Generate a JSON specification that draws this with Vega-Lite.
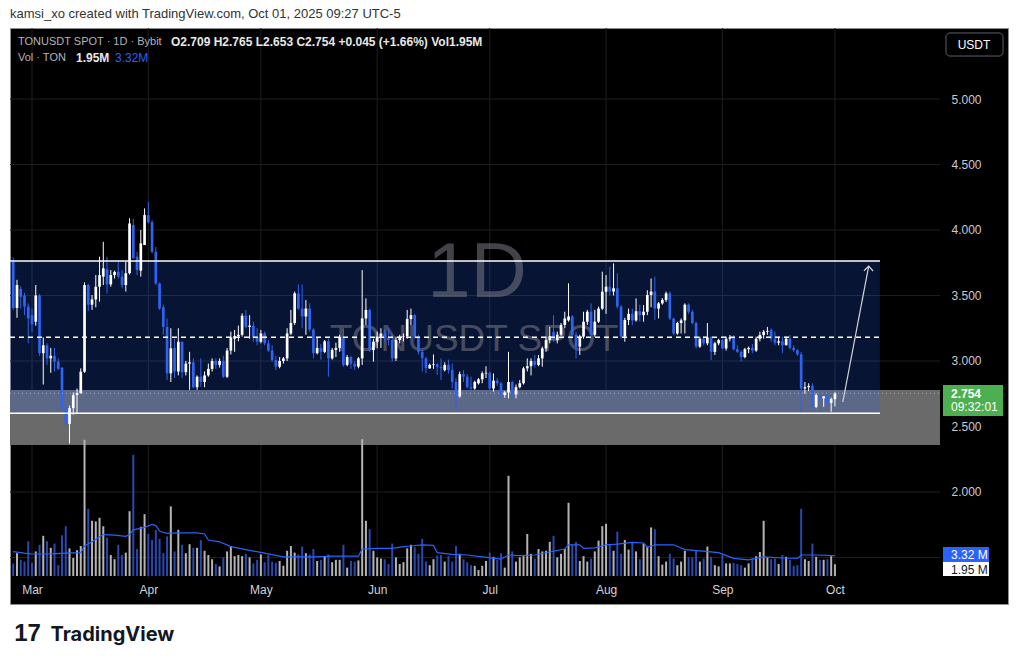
{
  "$schema": "https://vega.github.io/schema/vega-lite/v6.json",
  "width": 998,
  "height": 576,
  "autosize": "none",
  "padding": {"left": 10, "top": 28, "right": 10, "bottom": 60},
  "background": "#ffffff",
  "title": {"text": "kamsi_xo created with TradingView.com, Oct 01, 2025 09:27 UTC-5", "anchor": "start", "frame": "group", "fontSize": 13, "fontWeight": "normal", "color": "#333333", "font": "Liberation Sans", "offset": -6, "baseline": "bottom"},
  "config": {"view": {"fill": "#000000", "stroke": "#8f8f8f", "strokeWidth": 1}, "font": "Liberation Sans"},
  "datasets": {
    "candles": [
      {"d":"2025-02-24","o":3.756,"h":3.79,"l":3.39,"c":3.405,"v":2.1},
      {"d":"2025-02-25","o":3.405,"h":3.62,"l":3.33,"c":3.58,"v":3.8},
      {"d":"2025-02-26","o":3.55,"h":3.57,"l":3.40,"c":3.49,"v":2.7},
      {"d":"2025-02-27","o":3.50,"h":3.52,"l":3.35,"c":3.415,"v":2.4},
      {"d":"2025-02-28","o":3.415,"h":3.44,"l":3.135,"c":3.325,"v":5.8},
      {"d":"2025-03-01","o":3.35,"h":3.40,"l":3.22,"c":3.28,"v":2.2},
      {"d":"2025-03-02","o":3.30,"h":3.58,"l":3.27,"c":3.50,"v":4.1},
      {"d":"2025-03-03","o":3.50,"h":3.51,"l":3.04,"c":3.06,"v":5.2},
      {"d":"2025-03-04","o":3.06,"h":3.18,"l":2.82,"c":3.12,"v":6.7},
      {"d":"2025-03-05","o":3.12,"h":3.135,"l":2.97,"c":3.02,"v":5.8},
      {"d":"2025-03-06","o":3.02,"h":3.10,"l":2.91,"c":3.04,"v":4.7},
      {"d":"2025-03-07","o":3.04,"h":3.10,"l":2.92,"c":2.995,"v":5.4},
      {"d":"2025-03-08","o":2.995,"h":3.02,"l":2.93,"c":2.94,"v":1.8},
      {"d":"2025-03-09","o":2.95,"h":2.95,"l":2.627,"c":2.64,"v":6.8},
      {"d":"2025-03-10","o":2.64,"h":2.66,"l":2.50,"c":2.52,"v":8.3},
      {"d":"2025-03-11","o":2.52,"h":2.66,"l":2.37,"c":2.64,"v":4.6},
      {"d":"2025-03-12","o":2.64,"h":2.76,"l":2.59,"c":2.74,"v":3.0},
      {"d":"2025-03-13","o":2.74,"h":2.79,"l":2.60,"c":2.755,"v":4.3},
      {"d":"2025-03-14","o":2.755,"h":2.944,"l":2.75,"c":2.918,"v":5.0},
      {"d":"2025-03-15","o":2.918,"h":3.60,"l":2.91,"c":3.58,"v":22.7},
      {"d":"2025-03-16","o":3.58,"h":3.59,"l":3.38,"c":3.43,"v":11.2},
      {"d":"2025-03-17","o":3.43,"h":3.504,"l":3.39,"c":3.47,"v":9.2},
      {"d":"2025-03-18","o":3.47,"h":3.656,"l":3.41,"c":3.567,"v":9.1},
      {"d":"2025-03-19","o":3.567,"h":3.796,"l":3.453,"c":3.656,"v":9.7},
      {"d":"2025-03-20","o":3.644,"h":3.91,"l":3.58,"c":3.707,"v":8.3},
      {"d":"2025-03-21","o":3.70,"h":3.796,"l":3.516,"c":3.585,"v":6.4},
      {"d":"2025-03-22","o":3.585,"h":3.694,"l":3.567,"c":3.656,"v":3.5},
      {"d":"2025-03-23","o":3.656,"h":3.69,"l":3.63,"c":3.68,"v":2.8},
      {"d":"2025-03-24","o":3.682,"h":3.758,"l":3.63,"c":3.644,"v":5.2},
      {"d":"2025-03-25","o":3.644,"h":3.694,"l":3.555,"c":3.58,"v":3.5},
      {"d":"2025-03-26","o":3.58,"h":3.758,"l":3.53,"c":3.67,"v":3.9},
      {"d":"2025-03-27","o":3.67,"h":4.09,"l":3.66,"c":4.05,"v":10.8},
      {"d":"2025-03-28","o":4.038,"h":4.085,"l":3.783,"c":3.783,"v":20.2},
      {"d":"2025-03-29","o":3.796,"h":3.834,"l":3.656,"c":3.694,"v":4.5},
      {"d":"2025-03-30","o":3.69,"h":4.0,"l":3.644,"c":3.898,"v":8.2},
      {"d":"2025-03-31","o":3.885,"h":4.165,"l":3.885,"c":4.114,"v":10.3},
      {"d":"2025-04-01","o":4.114,"h":4.216,"l":4.05,"c":4.06,"v":7.0},
      {"d":"2025-04-02","o":4.06,"h":4.075,"l":3.82,"c":3.834,"v":6.0},
      {"d":"2025-04-03","o":3.834,"h":3.87,"l":3.58,"c":3.593,"v":7.7},
      {"d":"2025-04-04","o":3.593,"h":3.60,"l":3.39,"c":3.40,"v":6.2},
      {"d":"2025-04-05","o":3.41,"h":3.43,"l":3.20,"c":3.26,"v":3.8},
      {"d":"2025-04-06","o":3.26,"h":3.325,"l":2.855,"c":2.906,"v":6.6},
      {"d":"2025-04-07","o":2.906,"h":3.25,"l":2.84,"c":3.096,"v":11.6},
      {"d":"2025-04-08","o":3.10,"h":3.17,"l":2.87,"c":2.92,"v":4.1},
      {"d":"2025-04-09","o":2.92,"h":3.25,"l":2.89,"c":3.147,"v":7.7},
      {"d":"2025-04-10","o":3.147,"h":3.15,"l":2.87,"c":2.915,"v":5.2},
      {"d":"2025-04-11","o":2.915,"h":3.0,"l":2.89,"c":2.98,"v":3.8},
      {"d":"2025-04-12","o":2.98,"h":3.07,"l":2.78,"c":2.99,"v":5.3},
      {"d":"2025-04-13","o":2.99,"h":3.02,"l":2.79,"c":2.80,"v":4.7},
      {"d":"2025-04-14","o":2.80,"h":2.89,"l":2.78,"c":2.88,"v":4.7},
      {"d":"2025-04-15","o":2.88,"h":3.02,"l":2.80,"c":2.84,"v":6.0},
      {"d":"2025-04-16","o":2.84,"h":2.92,"l":2.80,"c":2.89,"v":4.2},
      {"d":"2025-04-17","o":2.89,"h":2.98,"l":2.88,"c":2.94,"v":3.5},
      {"d":"2025-04-18","o":2.94,"h":3.02,"l":2.92,"c":3.0,"v":2.8},
      {"d":"2025-04-19","o":3.0,"h":3.02,"l":2.94,"c":2.97,"v":2.0},
      {"d":"2025-04-20","o":2.97,"h":3.02,"l":2.95,"c":3.0,"v":1.6},
      {"d":"2025-04-21","o":3.0,"h":3.04,"l":2.87,"c":2.88,"v":3.1},
      {"d":"2025-04-22","o":2.88,"h":3.10,"l":2.87,"c":3.08,"v":4.1},
      {"d":"2025-04-23","o":3.08,"h":3.224,"l":3.05,"c":3.18,"v":5.0},
      {"d":"2025-04-24","o":3.17,"h":3.237,"l":3.07,"c":3.19,"v":3.3},
      {"d":"2025-04-25","o":3.19,"h":3.27,"l":3.15,"c":3.20,"v":3.5},
      {"d":"2025-04-26","o":3.20,"h":3.364,"l":3.186,"c":3.346,"v":3.3},
      {"d":"2025-04-27","o":3.346,"h":3.39,"l":3.25,"c":3.26,"v":3.7},
      {"d":"2025-04-28","o":3.26,"h":3.35,"l":3.17,"c":3.27,"v":3.1},
      {"d":"2025-04-29","o":3.27,"h":3.30,"l":3.147,"c":3.18,"v":2.1},
      {"d":"2025-04-30","o":3.18,"h":3.25,"l":3.12,"c":3.147,"v":2.7},
      {"d":"2025-05-01","o":3.147,"h":3.237,"l":3.135,"c":3.21,"v":3.6},
      {"d":"2025-05-02","o":3.21,"h":3.224,"l":3.12,"c":3.135,"v":2.3},
      {"d":"2025-05-03","o":3.135,"h":3.16,"l":3.07,"c":3.08,"v":3.5},
      {"d":"2025-05-04","o":3.08,"h":3.12,"l":2.995,"c":3.007,"v":2.4},
      {"d":"2025-05-05","o":3.007,"h":3.04,"l":2.93,"c":2.957,"v":2.2},
      {"d":"2025-05-06","o":2.957,"h":3.03,"l":2.944,"c":3.0,"v":2.5},
      {"d":"2025-05-07","o":3.0,"h":3.03,"l":2.98,"c":3.02,"v":1.7},
      {"d":"2025-05-08","o":3.02,"h":3.25,"l":3.0,"c":3.21,"v":4.2},
      {"d":"2025-05-09","o":3.21,"h":3.39,"l":3.198,"c":3.29,"v":5.0},
      {"d":"2025-05-10","o":3.29,"h":3.53,"l":3.275,"c":3.516,"v":3.9},
      {"d":"2025-05-11","o":3.516,"h":3.585,"l":3.39,"c":3.40,"v":3.6},
      {"d":"2025-05-12","o":3.40,"h":3.585,"l":3.25,"c":3.34,"v":4.9},
      {"d":"2025-05-13","o":3.34,"h":3.465,"l":3.20,"c":3.40,"v":3.8},
      {"d":"2025-05-14","o":3.40,"h":3.44,"l":3.224,"c":3.24,"v":3.6},
      {"d":"2025-05-15","o":3.24,"h":3.25,"l":3.02,"c":3.06,"v":4.5},
      {"d":"2025-05-16","o":3.06,"h":3.18,"l":3.05,"c":3.10,"v":2.5},
      {"d":"2025-05-17","o":3.10,"h":3.13,"l":3.01,"c":3.07,"v":2.7},
      {"d":"2025-05-18","o":3.07,"h":3.16,"l":3.06,"c":3.15,"v":3.2},
      {"d":"2025-05-19","o":3.15,"h":3.17,"l":2.88,"c":3.02,"v":3.6},
      {"d":"2025-05-20","o":3.02,"h":3.10,"l":3.01,"c":3.085,"v":2.3},
      {"d":"2025-05-21","o":3.085,"h":3.14,"l":3.03,"c":3.10,"v":2.7},
      {"d":"2025-05-22","o":3.10,"h":3.20,"l":3.07,"c":3.185,"v":2.7},
      {"d":"2025-05-23","o":3.185,"h":3.25,"l":2.956,"c":2.97,"v":5.2},
      {"d":"2025-05-24","o":2.97,"h":3.046,"l":2.96,"c":3.03,"v":1.4},
      {"d":"2025-05-25","o":3.03,"h":3.04,"l":2.94,"c":2.98,"v":2.5},
      {"d":"2025-05-26","o":2.98,"h":3.0,"l":2.93,"c":2.957,"v":2.4},
      {"d":"2025-05-27","o":2.957,"h":3.03,"l":2.944,"c":3.02,"v":2.6},
      {"d":"2025-05-28","o":3.02,"h":3.694,"l":2.97,"c":3.325,"v":22.8},
      {"d":"2025-05-29","o":3.325,"h":3.478,"l":3.274,"c":3.39,"v":9.2},
      {"d":"2025-05-30","o":3.39,"h":3.40,"l":3.07,"c":3.083,"v":7.8},
      {"d":"2025-05-31","o":3.083,"h":3.17,"l":2.995,"c":3.147,"v":4.2},
      {"d":"2025-06-01","o":3.147,"h":3.224,"l":3.096,"c":3.186,"v":3.1},
      {"d":"2025-06-02","o":3.186,"h":3.25,"l":3.10,"c":3.21,"v":2.9},
      {"d":"2025-06-03","o":3.21,"h":3.24,"l":3.15,"c":3.174,"v":2.8},
      {"d":"2025-06-04","o":3.174,"h":3.25,"l":3.12,"c":3.16,"v":2.0},
      {"d":"2025-06-05","o":3.16,"h":3.20,"l":2.995,"c":3.02,"v":5.4},
      {"d":"2025-06-06","o":3.02,"h":3.186,"l":3.0,"c":3.16,"v":3.1},
      {"d":"2025-06-07","o":3.16,"h":3.20,"l":3.135,"c":3.186,"v":2.0},
      {"d":"2025-06-08","o":3.186,"h":3.21,"l":3.15,"c":3.19,"v":2.3},
      {"d":"2025-06-09","o":3.19,"h":3.39,"l":3.17,"c":3.32,"v":4.6},
      {"d":"2025-06-10","o":3.32,"h":3.40,"l":3.275,"c":3.35,"v":5.2},
      {"d":"2025-06-11","o":3.35,"h":3.36,"l":3.17,"c":3.186,"v":4.8},
      {"d":"2025-06-12","o":3.186,"h":3.20,"l":3.05,"c":3.07,"v":3.7},
      {"d":"2025-06-13","o":3.07,"h":3.083,"l":2.92,"c":3.02,"v":6.2},
      {"d":"2025-06-14","o":3.02,"h":3.03,"l":2.906,"c":2.944,"v":2.4},
      {"d":"2025-06-15","o":2.944,"h":2.98,"l":2.94,"c":2.97,"v":1.8},
      {"d":"2025-06-16","o":2.97,"h":3.05,"l":2.94,"c":2.975,"v":2.8},
      {"d":"2025-06-17","o":2.975,"h":2.985,"l":2.895,"c":2.955,"v":3.4},
      {"d":"2025-06-18","o":2.955,"h":3.02,"l":2.855,"c":2.944,"v":3.5},
      {"d":"2025-06-19","o":2.93,"h":2.99,"l":2.92,"c":2.97,"v":2.4},
      {"d":"2025-06-20","o":2.97,"h":3.01,"l":2.905,"c":2.93,"v":3.3},
      {"d":"2025-06-21","o":2.93,"h":2.98,"l":2.79,"c":2.84,"v":2.4},
      {"d":"2025-06-22","o":2.84,"h":2.87,"l":2.61,"c":2.73,"v":5.0},
      {"d":"2025-06-23","o":2.73,"h":2.92,"l":2.72,"c":2.90,"v":3.7},
      {"d":"2025-06-24","o":2.90,"h":2.93,"l":2.84,"c":2.88,"v":2.8},
      {"d":"2025-06-25","o":2.88,"h":2.90,"l":2.79,"c":2.80,"v":2.3},
      {"d":"2025-06-26","o":2.80,"h":2.88,"l":2.78,"c":2.79,"v":1.8},
      {"d":"2025-06-27","o":2.79,"h":2.85,"l":2.78,"c":2.84,"v":1.7},
      {"d":"2025-06-28","o":2.83,"h":2.87,"l":2.82,"c":2.86,"v":1.0},
      {"d":"2025-06-29","o":2.86,"h":2.92,"l":2.83,"c":2.905,"v":1.7},
      {"d":"2025-06-30","o":2.905,"h":2.96,"l":2.87,"c":2.91,"v":2.5},
      {"d":"2025-07-01","o":2.91,"h":2.92,"l":2.78,"c":2.79,"v":3.9},
      {"d":"2025-07-02","o":2.79,"h":2.905,"l":2.766,"c":2.85,"v":3.2},
      {"d":"2025-07-03","o":2.85,"h":2.87,"l":2.81,"c":2.83,"v":2.7},
      {"d":"2025-07-04","o":2.83,"h":2.84,"l":2.715,"c":2.74,"v":3.8},
      {"d":"2025-07-05","o":2.74,"h":2.77,"l":2.72,"c":2.76,"v":1.4},
      {"d":"2025-07-06","o":2.76,"h":3.07,"l":2.715,"c":2.84,"v":16.7},
      {"d":"2025-07-07","o":2.84,"h":2.85,"l":2.72,"c":2.745,"v":4.1},
      {"d":"2025-07-08","o":2.745,"h":2.82,"l":2.715,"c":2.80,"v":2.4},
      {"d":"2025-07-09","o":2.80,"h":2.855,"l":2.79,"c":2.83,"v":3.1},
      {"d":"2025-07-10","o":2.83,"h":2.956,"l":2.82,"c":2.944,"v":3.3},
      {"d":"2025-07-11","o":2.944,"h":3.02,"l":2.92,"c":2.96,"v":7.0},
      {"d":"2025-07-12","o":2.96,"h":3.02,"l":2.89,"c":3.0,"v":3.7},
      {"d":"2025-07-13","o":3.0,"h":3.046,"l":2.95,"c":2.97,"v":2.9},
      {"d":"2025-07-14","o":2.97,"h":3.046,"l":2.96,"c":3.02,"v":4.5},
      {"d":"2025-07-15","o":3.02,"h":3.11,"l":2.957,"c":3.096,"v":4.1},
      {"d":"2025-07-16","o":3.096,"h":3.186,"l":3.07,"c":3.16,"v":4.2},
      {"d":"2025-07-17","o":3.16,"h":3.26,"l":3.135,"c":3.19,"v":5.7},
      {"d":"2025-07-18","o":3.22,"h":3.35,"l":3.147,"c":3.16,"v":6.7},
      {"d":"2025-07-19","o":3.16,"h":3.224,"l":3.135,"c":3.20,"v":3.1},
      {"d":"2025-07-20","o":3.20,"h":3.29,"l":3.19,"c":3.275,"v":3.7},
      {"d":"2025-07-21","o":3.275,"h":3.376,"l":3.25,"c":3.325,"v":4.5},
      {"d":"2025-07-22","o":3.31,"h":3.593,"l":3.30,"c":3.34,"v":12.2},
      {"d":"2025-07-23","o":3.34,"h":3.35,"l":3.19,"c":3.20,"v":5.2},
      {"d":"2025-07-24","o":3.20,"h":3.22,"l":3.02,"c":3.11,"v":5.7},
      {"d":"2025-07-25","o":3.11,"h":3.20,"l":3.046,"c":3.186,"v":2.5},
      {"d":"2025-07-26","o":3.186,"h":3.376,"l":3.17,"c":3.30,"v":3.3},
      {"d":"2025-07-27","o":3.30,"h":3.39,"l":3.275,"c":3.376,"v":2.4},
      {"d":"2025-07-28","o":3.376,"h":3.44,"l":3.198,"c":3.20,"v":2.9},
      {"d":"2025-07-29","o":3.20,"h":3.39,"l":3.186,"c":3.30,"v":4.1},
      {"d":"2025-07-30","o":3.30,"h":3.415,"l":3.29,"c":3.40,"v":5.9},
      {"d":"2025-07-31","o":3.40,"h":3.682,"l":3.39,"c":3.529,"v":8.3},
      {"d":"2025-08-01","o":3.529,"h":3.656,"l":3.36,"c":3.567,"v":8.7},
      {"d":"2025-08-02","o":3.567,"h":3.72,"l":3.50,"c":3.53,"v":5.2},
      {"d":"2025-08-03","o":3.53,"h":3.745,"l":3.50,"c":3.555,"v":4.2},
      {"d":"2025-08-04","o":3.555,"h":3.67,"l":3.40,"c":3.415,"v":7.4},
      {"d":"2025-08-05","o":3.415,"h":3.427,"l":3.17,"c":3.186,"v":3.7},
      {"d":"2025-08-06","o":3.186,"h":3.33,"l":3.147,"c":3.313,"v":6.0},
      {"d":"2025-08-07","o":3.313,"h":3.40,"l":3.275,"c":3.36,"v":4.4},
      {"d":"2025-08-08","o":3.36,"h":3.40,"l":3.275,"c":3.31,"v":5.6},
      {"d":"2025-08-09","o":3.31,"h":3.478,"l":3.30,"c":3.38,"v":4.1},
      {"d":"2025-08-10","o":3.38,"h":3.43,"l":3.30,"c":3.35,"v":2.8},
      {"d":"2025-08-11","o":3.35,"h":3.427,"l":3.30,"c":3.376,"v":5.4},
      {"d":"2025-08-12","o":3.376,"h":3.54,"l":3.35,"c":3.504,"v":4.9},
      {"d":"2025-08-13","o":3.504,"h":3.63,"l":3.41,"c":3.53,"v":8.1},
      {"d":"2025-08-14","o":3.53,"h":3.644,"l":3.313,"c":3.40,"v":7.8},
      {"d":"2025-08-15","o":3.40,"h":3.45,"l":3.325,"c":3.44,"v":3.3},
      {"d":"2025-08-16","o":3.44,"h":3.48,"l":3.43,"c":3.466,"v":1.9},
      {"d":"2025-08-17","o":3.466,"h":3.53,"l":3.45,"c":3.516,"v":2.4},
      {"d":"2025-08-18","o":3.516,"h":3.53,"l":3.313,"c":3.325,"v":3.7},
      {"d":"2025-08-19","o":3.325,"h":3.33,"l":3.198,"c":3.21,"v":2.9},
      {"d":"2025-08-20","o":3.21,"h":3.30,"l":3.20,"c":3.29,"v":1.8},
      {"d":"2025-08-21","o":3.29,"h":3.325,"l":3.21,"c":3.31,"v":2.4},
      {"d":"2025-08-22","o":3.31,"h":3.44,"l":3.21,"c":3.43,"v":4.2},
      {"d":"2025-08-23","o":3.43,"h":3.44,"l":3.36,"c":3.376,"v":3.1},
      {"d":"2025-08-24","o":3.376,"h":3.39,"l":3.28,"c":3.29,"v":3.1},
      {"d":"2025-08-25","o":3.29,"h":3.30,"l":3.096,"c":3.11,"v":4.3},
      {"d":"2025-08-26","o":3.11,"h":3.186,"l":3.10,"c":3.17,"v":2.4},
      {"d":"2025-08-27","o":3.17,"h":3.19,"l":3.12,"c":3.135,"v":2.9},
      {"d":"2025-08-28","o":3.135,"h":3.29,"l":3.12,"c":3.18,"v":4.9},
      {"d":"2025-08-29","o":3.18,"h":3.19,"l":3.007,"c":3.07,"v":3.2},
      {"d":"2025-08-30","o":3.07,"h":3.147,"l":3.046,"c":3.135,"v":1.8},
      {"d":"2025-08-31","o":3.135,"h":3.17,"l":3.12,"c":3.16,"v":1.6},
      {"d":"2025-09-01","o":3.16,"h":3.17,"l":3.09,"c":3.096,"v":3.5},
      {"d":"2025-09-02","o":3.096,"h":3.186,"l":3.08,"c":3.17,"v":2.1},
      {"d":"2025-09-03","o":3.17,"h":3.198,"l":3.15,"c":3.18,"v":2.1},
      {"d":"2025-09-04","o":3.18,"h":3.198,"l":3.08,"c":3.09,"v":2.2},
      {"d":"2025-09-05","o":3.09,"h":3.12,"l":3.06,"c":3.07,"v":2.0},
      {"d":"2025-09-06","o":3.07,"h":3.08,"l":2.995,"c":3.03,"v":1.8},
      {"d":"2025-09-07","o":3.03,"h":3.10,"l":3.02,"c":3.09,"v":1.4},
      {"d":"2025-09-08","o":3.09,"h":3.11,"l":3.06,"c":3.10,"v":2.1},
      {"d":"2025-09-09","o":3.10,"h":3.13,"l":3.06,"c":3.08,"v":2.9},
      {"d":"2025-09-10","o":3.08,"h":3.186,"l":3.07,"c":3.17,"v":3.3},
      {"d":"2025-09-11","o":3.17,"h":3.224,"l":3.15,"c":3.198,"v":4.0},
      {"d":"2025-09-12","o":3.198,"h":3.237,"l":3.17,"c":3.224,"v":9.2},
      {"d":"2025-09-13","o":3.224,"h":3.26,"l":3.20,"c":3.23,"v":3.1},
      {"d":"2025-09-14","o":3.237,"h":3.25,"l":3.147,"c":3.17,"v":2.8},
      {"d":"2025-09-15","o":3.17,"h":3.224,"l":3.12,"c":3.14,"v":2.9},
      {"d":"2025-09-16","o":3.14,"h":3.186,"l":3.12,"c":3.15,"v":2.0},
      {"d":"2025-09-17","o":3.15,"h":3.186,"l":3.06,"c":3.12,"v":3.5},
      {"d":"2025-09-18","o":3.12,"h":3.186,"l":3.12,"c":3.17,"v":3.2},
      {"d":"2025-09-19","o":3.17,"h":3.198,"l":3.09,"c":3.10,"v":2.7},
      {"d":"2025-09-20","o":3.10,"h":3.12,"l":3.07,"c":3.083,"v":1.7},
      {"d":"2025-09-21","o":3.083,"h":3.09,"l":3.04,"c":3.05,"v":1.8},
      {"d":"2025-09-22","o":3.05,"h":3.07,"l":2.595,"c":2.79,"v":11.2},
      {"d":"2025-09-23","o":2.79,"h":2.84,"l":2.75,"c":2.80,"v":2.8},
      {"d":"2025-09-24","o":2.80,"h":2.83,"l":2.77,"c":2.81,"v":2.5},
      {"d":"2025-09-25","o":2.81,"h":2.83,"l":2.64,"c":2.65,"v":5.4},
      {"d":"2025-09-26","o":2.65,"h":2.753,"l":2.64,"c":2.74,"v":3.2},
      {"d":"2025-09-27","o":2.74,"h":2.75,"l":2.70,"c":2.715,"v":2.7},
      {"d":"2025-09-28","o":2.715,"h":2.73,"l":2.65,"c":2.73,"v":2.7},
      {"d":"2025-09-29","o":2.73,"h":2.745,"l":2.67,"c":2.68,"v":2.8},
      {"d":"2025-09-30","o":2.68,"h":2.72,"l":2.613,"c":2.709,"v":3.3},
      {"d":"2025-10-01","o":2.709,"h":2.765,"l":2.653,"c":2.754,"v":1.95}
    ],
    "ma": [
      {"t":"2025-02-24","m":4.05},{"t":"2025-02-27","m":3.8},{"t":"2025-03-01","m":3.67},{"t":"2025-03-06","m":3.7},
      {"t":"2025-03-10","m":3.8},{"t":"2025-03-14","m":3.9},{"t":"2025-03-15","m":5.0},{"t":"2025-03-17","m":5.7},
      {"t":"2025-03-20","m":6.9},{"t":"2025-03-23","m":6.8},{"t":"2025-03-26","m":6.6},{"t":"2025-03-27","m":6.9},
      {"t":"2025-03-28","m":7.7},{"t":"2025-03-31","m":8.1},{"t":"2025-04-02","m":8.6},{"t":"2025-04-03","m":8.4},
      {"t":"2025-04-04","m":7.5},{"t":"2025-04-06","m":7.1},{"t":"2025-04-09","m":7.2},{"t":"2025-04-14","m":7.2},
      {"t":"2025-04-16","m":7.0},{"t":"2025-04-17","m":6.0},{"t":"2025-04-20","m":5.7},{"t":"2025-04-23","m":4.9},
      {"t":"2025-04-27","m":4.4},{"t":"2025-05-02","m":3.8},{"t":"2025-05-07","m":3.2},{"t":"2025-05-15","m":3.2},
      {"t":"2025-05-20","m":3.3},{"t":"2025-05-27","m":3.3},{"t":"2025-05-28","m":4.5},{"t":"2025-06-01","m":4.6},
      {"t":"2025-06-05","m":4.6},{"t":"2025-06-08","m":4.9},{"t":"2025-06-10","m":5.0},{"t":"2025-06-13","m":5.2},
      {"t":"2025-06-16","m":5.1},{"t":"2025-06-17","m":3.9},{"t":"2025-06-21","m":3.6},{"t":"2025-06-25","m":3.5},
      {"t":"2025-06-29","m":3.2},{"t":"2025-07-04","m":2.8},{"t":"2025-07-06","m":3.5},{"t":"2025-07-09","m":3.4},
      {"t":"2025-07-13","m":3.5},{"t":"2025-07-17","m":4.0},{"t":"2025-07-21","m":4.5},{"t":"2025-07-22","m":5.2},
      {"t":"2025-07-25","m":5.2},{"t":"2025-07-26","m":4.6},{"t":"2025-07-29","m":4.7},{"t":"2025-08-01","m":5.2},
      {"t":"2025-08-04","m":5.3},{"t":"2025-08-08","m":5.6},{"t":"2025-08-11","m":5.5},{"t":"2025-08-12","m":4.8},
      {"t":"2025-08-14","m":5.2},{"t":"2025-08-19","m":5.2},{"t":"2025-08-22","m":4.4},{"t":"2025-08-26","m":4.2},
      {"t":"2025-08-31","m":3.9},{"t":"2025-09-04","m":2.94},{"t":"2025-09-08","m":2.7},{"t":"2025-09-12","m":3.2},
      {"t":"2025-09-17","m":3.0},{"t":"2025-09-21","m":2.94},{"t":"2025-09-22","m":3.5},{"t":"2025-09-26","m":3.5},
      {"t":"2025-10-01","m":3.4}
    ],
    "months": [{"m":"2025-03-01"},{"m":"2025-04-01"},{"m":"2025-05-01"},{"m":"2025-06-01"},{"m":"2025-07-01"},{"m":"2025-08-01"},{"m":"2025-09-01"},{"m":"2025-10-01"}],
    "grid": [{"g":1.5},{"g":2},{"g":2.5},{"g":3},{"g":3.5},{"g":4},{"g":4.5},{"g":5}],
    "levels": [{"p":3.763,"k":"top"},{"p":2.601,"k":"bottom"}],
    "arrow": [
      {"s":"shaft","k":1,"t":"2025-10-03T02:24:00Z","p":2.687},
      {"s":"shaft","k":2,"t":"2025-10-10T00:00:00Z","p":3.725},
      {"s":"head","k":1,"t":"2025-10-08T18:00:00Z","p":3.689},
      {"s":"head","k":2,"t":"2025-10-10T00:00:00Z","p":3.725},
      {"s":"head","k":3,"t":"2025-10-11T03:36:00Z","p":3.687}
    ]
  },
  "layer": [
    {
      "layer": [
        {
          "data": {"name": "months"},
          "mark": {"type": "rule", "color": "#1e1e1e", "strokeWidth": 1},
          "encoding": {
            "x": {"field": "m", "type": "temporal"},
            "y": {"datum": 5.542, "type": "quantitative", "scale": {"domain": [1.145, 5.542], "nice": false, "zero": false}, "axis": null},
            "y2": {"datum": 1.343}
          }
        },
        {
          "data": {"name": "grid"},
          "mark": {"type": "rule", "color": "#1e1e1e", "strokeWidth": 1},
          "encoding": {
            "x": {"datum": {"year": 2025, "month": 2, "date": 23, "hours": 3, "minutes": 16, "utc": true}, "type": "temporal"},
            "x2": {"datum": {"year": 2025, "month": 10, "date": 29, "utc": true}},
            "y": {"field": "g", "type": "quantitative", "axis": null}
          }
        },
        {
          "data": {"values": [{}]},
          "mark": {"type": "rect", "color": "#6a6a6a"},
          "encoding": {
            "x": {"datum": {"year": 2025, "month": 2, "date": 23, "hours": 3, "minutes": 16, "utc": true}, "type": "temporal"},
            "x2": {"datum": {"year": 2025, "month": 10, "date": 29, "utc": true}},
            "y": {"datum": 2.779, "type": "quantitative", "axis": null},
            "y2": {"datum": 2.359}
          }
        },
        {
          "data": {"values": [{}]},
          "mark": {"type": "rect", "color": "#2962ff", "opacity": 0.2},
          "encoding": {
            "x": {"datum": {"year": 2025, "month": 2, "date": 23, "hours": 3, "minutes": 16, "utc": true}, "type": "temporal"},
            "x2": {"datum": {"year": 2025, "month": 10, "date": 13, "utc": true}},
            "y": {"datum": 3.763, "type": "quantitative", "axis": null},
            "y2": {"datum": 2.601}
          }
        },
        {
          "data": {"values": [{}]},
          "mark": {"type": "text", "text": "1D", "fontSize": 78, "color": "#787b86", "opacity": 0.55, "align": "center", "baseline": "middle", "font": "Liberation Sans"},
          "encoding": {
            "x": {"datum": {"year": 2025, "month": 6, "date": 27, "hours": 14, "minutes": 28, "utc": true}, "type": "temporal"},
            "y": {"datum": 3.664, "type": "quantitative", "axis": null}
          }
        },
        {
          "data": {"values": [{}]},
          "mark": {"type": "text", "text": "TONUSDT SPOT", "fontSize": 37, "color": "#787b86", "opacity": 0.55, "align": "center", "baseline": "middle", "font": "Liberation Sans"},
          "encoding": {
            "x": {"datum": {"year": 2025, "month": 6, "date": 26, "hours": 19, "minutes": 18, "utc": true}, "type": "temporal"},
            "y": {"datum": 3.16, "type": "quantitative", "axis": null}
          }
        }
      ]
    },
    {
      "layer": [
        {
          "data": {"name": "candles"},
          "mark": {"type": "bar", "size": 2},
          "encoding": {
            "x": {"field": "d", "type": "temporal"},
            "y": {"field": "v", "type": "quantitative", "stack": null, "scale": {"domain": [0, 91.333], "range": [548, 0], "nice": false}, "axis": null},
            "color": {"condition": {"test": "datum.c >= datum.o", "value": "#b4b4b4"}, "value": "#2a48b0"}
          }
        },
        {
          "data": {"name": "ma"},
          "mark": {"type": "line", "color": "#2962ff", "strokeWidth": 1.2, "interpolate": "linear"},
          "encoding": {
            "x": {"field": "t", "type": "temporal"},
            "y": {"field": "m", "type": "quantitative", "axis": null}
          }
        }
      ]
    },
    {
      "layer": [
        {
          "data": {"name": "candles"},
          "mark": {"type": "rule", "strokeWidth": 1},
          "encoding": {
            "x": {
              "field": "d", "type": "temporal",
              "scale": {"type": "utc", "nice": false, "padding": 0, "domain": [{"year": 2025, "month": 2, "date": 23, "hours": 3, "minutes": 16, "utc": true}, {"year": 2025, "month": 11, "date": 16, "hours": 3, "minutes": 4, "utc": true}]},
              "axis": {
                "orient": "bottom", "offset": -26, "format": "%b", "labelFlush": false, "labelOverlap": false,
                "values": [
                  {"year": 2025, "month": 3, "date": 1, "utc": true}, {"year": 2025, "month": 4, "date": 1, "utc": true},
                  {"year": 2025, "month": 5, "date": 1, "utc": true}, {"year": 2025, "month": 6, "date": 1, "utc": true},
                  {"year": 2025, "month": 7, "date": 1, "utc": true}, {"year": 2025, "month": 8, "date": 1, "utc": true},
                  {"year": 2025, "month": 9, "date": 1, "utc": true}, {"year": 2025, "month": 10, "date": 1, "utc": true}
                ],
                "domain": false, "ticks": false, "grid": false,
                "labelColor": "#d1d4dc", "labelFontSize": 12, "labelFont": "Liberation Sans", "labelPadding": 6,
                "title": "TradingView", "titleX": 40, "titleY": 56, "titleAlign": "left", "titleBaseline": "middle",
                "titleFontSize": 20, "titleFontWeight": "bold", "titleColor": "#131722", "titleFont": "Inter"
              }
            },
            "y": {
              "field": "l", "type": "quantitative",
              "scale": {"domain": [1.145, 5.542], "nice": false, "zero": false},
              "axis": {
                "orient": "right", "offset": -68, "values": [2, 2.5, 3, 3.5, 4, 4.5, 5], "format": ".3f",
                "domain": false, "ticks": false, "grid": false,
                "labelColor": "#c8cbd3", "labelFontSize": 12, "labelFont": "Liberation Sans", "labelPadding": 11,
                "title": "17", "titleAngle": 0, "titleX": -913, "titleY": 605, "titleAlign": "center", "titleBaseline": "middle",
                "titleFontSize": 24, "titleFontWeight": "bold", "titleColor": "#131722", "titleFont": "Liberation Sans"
              }
            },
            "y2": {"field": "h"},
            "color": {"condition": {"test": "datum.c >= datum.o", "value": "#ffffff"}, "value": "#2f63f0"}
          }
        },
        {
          "data": {"name": "candles"},
          "mark": {"type": "bar", "size": 2.7},
          "encoding": {
            "x": {"field": "d", "type": "temporal"},
            "y": {"field": "o", "type": "quantitative"},
            "y2": {"field": "c"},
            "color": {"condition": {"test": "datum.c >= datum.o", "value": "#ffffff"}, "value": "#2f63f0"}
          }
        },
        {
          "data": {"name": "levels"},
          "mark": {"type": "rule", "color": "#ffffff", "strokeWidth": 1.5},
          "encoding": {
            "x": {"datum": {"year": 2025, "month": 2, "date": 23, "hours": 3, "minutes": 16, "utc": true}, "type": "temporal"},
            "x2": {"datum": {"year": 2025, "month": 10, "date": 13, "utc": true}},
            "y": {"field": "p", "type": "quantitative"}
          }
        },
        {
          "data": {"values": [{}]},
          "mark": {"type": "rule", "color": "#ffffff", "strokeWidth": 1.5, "strokeDash": [5, 4]},
          "encoding": {
            "x": {"datum": {"year": 2025, "month": 2, "date": 23, "hours": 3, "minutes": 16, "utc": true}, "type": "temporal"},
            "x2": {"datum": {"year": 2025, "month": 10, "date": 13, "utc": true}},
            "y": {"datum": 3.181, "type": "quantitative"}
          }
        },
        {
          "data": {"values": [{}]},
          "mark": {"type": "rule", "color": "#a4a9b6", "strokeWidth": 1, "strokeDash": [1, 3]},
          "encoding": {
            "x": {"datum": {"year": 2025, "month": 2, "date": 23, "hours": 3, "minutes": 16, "utc": true}, "type": "temporal"},
            "x2": {"datum": {"year": 2025, "month": 10, "date": 29, "utc": true}},
            "y": {"datum": 2.754, "type": "quantitative"}
          }
        },
        {
          "data": {"name": "arrow"},
          "mark": {"type": "line", "color": "#d6d6d6", "strokeWidth": 1.2},
          "encoding": {
            "x": {"field": "t", "type": "temporal"},
            "y": {"field": "p", "type": "quantitative"},
            "detail": {"field": "s"},
            "order": {"field": "k"}
          }
        },
        {
          "data": {"values": [{}]},
          "mark": {"type": "text", "text": "TONUSDT SPOT · 1D · Bybit", "fontSize": 11, "color": "#b2b5be", "align": "left", "baseline": "middle", "font": "Liberation Sans"},
          "encoding": {
            "x": {"datum": {"year": 2025, "month": 2, "date": 25, "hours": 6, "minutes": 27, "utc": true}, "type": "temporal"},
            "y": {"datum": 5.435, "type": "quantitative"}
          }
        },
        {
          "data": {"values": [{}]},
          "mark": {"type": "text", "text": "O2.709  H2.765  L2.653  C2.754  +0.045 (+1.66%)  Vol1.95M", "fontSize": 12, "fontWeight": "bold", "color": "#e8e8e8", "align": "left", "baseline": "middle", "font": "Liberation Sans"},
          "encoding": {
            "x": {"datum": {"year": 2025, "month": 4, "date": 7, "hours": 1, "minutes": 8, "utc": true}, "type": "temporal"},
            "y": {"datum": 5.435, "type": "quantitative"}
          }
        },
        {
          "data": {"values": [{}]},
          "mark": {"type": "text", "text": "Vol · TON", "fontSize": 11, "color": "#b2b5be", "align": "left", "baseline": "middle", "font": "Liberation Sans"},
          "encoding": {
            "x": {"datum": {"year": 2025, "month": 2, "date": 25, "hours": 6, "minutes": 27, "utc": true}, "type": "temporal"},
            "y": {"datum": 5.313, "type": "quantitative"}
          }
        },
        {
          "data": {"values": [{}]},
          "mark": {"type": "text", "text": "1.95M", "fontSize": 12, "fontWeight": "bold", "color": "#e8e8e8", "align": "left", "baseline": "middle", "font": "Liberation Sans"},
          "encoding": {
            "x": {"datum": {"year": 2025, "month": 3, "date": 12, "hours": 17, "minutes": 27, "utc": true}, "type": "temporal"},
            "y": {"datum": 5.313, "type": "quantitative"}
          }
        },
        {
          "data": {"values": [{}]},
          "mark": {"type": "text", "text": "3.32M", "fontSize": 12, "color": "#2962ff", "align": "left", "baseline": "middle", "font": "Liberation Sans"},
          "encoding": {
            "x": {"datum": {"year": 2025, "month": 3, "date": 23, "hours": 2, "minutes": 56, "utc": true}, "type": "temporal"},
            "y": {"datum": 5.313, "type": "quantitative"}
          }
        },
        {
          "data": {"values": [{}]},
          "mark": {"type": "rect", "color": "#000000", "stroke": "#5d606b", "strokeWidth": 1, "cornerRadius": 4},
          "encoding": {
            "x": {"datum": {"year": 2025, "month": 10, "date": 30, "hours": 14, "minutes": 24, "utc": true}, "type": "temporal"},
            "x2": {"datum": {"year": 2025, "month": 11, "date": 14, "hours": 19, "minutes": 12, "utc": true}},
            "y": {"datum": 5.504, "type": "quantitative"},
            "y2": {"datum": 5.328}
          }
        },
        {
          "data": {"values": [{}]},
          "mark": {"type": "text", "text": "USDT", "fontSize": 12, "color": "#ffffff", "align": "center", "baseline": "middle", "font": "Liberation Sans"},
          "encoding": {
            "x": {"datum": {"year": 2025, "month": 11, "date": 7, "hours": 1, "minutes": 41, "utc": true}, "type": "temporal"},
            "y": {"datum": 5.412, "type": "quantitative"}
          }
        },
        {
          "data": {"values": [{}]},
          "mark": {"type": "rect", "color": "#4caf50"},
          "encoding": {
            "x": {"datum": {"year": 2025, "month": 10, "date": 29, "hours": 19, "minutes": 12, "utc": true}, "type": "temporal"},
            "x2": {"datum": {"year": 2025, "month": 11, "date": 14, "hours": 19, "minutes": 12, "utc": true}},
            "y": {"datum": 2.817, "type": "quantitative"},
            "y2": {"datum": 2.58}
          }
        },
        {
          "data": {"values": [{}]},
          "mark": {"type": "text", "text": "2.754", "fontSize": 12, "fontWeight": "bold", "color": "#ffffff", "align": "left", "baseline": "middle", "font": "Liberation Sans"},
          "encoding": {
            "x": {"datum": {"year": 2025, "month": 10, "date": 31, "hours": 22, "minutes": 33, "utc": true}, "type": "temporal"},
            "y": {"datum": 2.748, "type": "quantitative"}
          }
        },
        {
          "data": {"values": [{}]},
          "mark": {"type": "text", "text": "09:32:01", "fontSize": 12, "color": "#ffffff", "align": "left", "baseline": "middle", "font": "Liberation Sans"},
          "encoding": {
            "x": {"datum": {"year": 2025, "month": 10, "date": 31, "hours": 22, "minutes": 33, "utc": true}, "type": "temporal"},
            "y": {"datum": 2.649, "type": "quantitative"}
          }
        },
        {
          "data": {"values": [{}]},
          "mark": {"type": "rect", "color": "#2962ff"},
          "encoding": {
            "x": {"datum": {"year": 2025, "month": 10, "date": 29, "hours": 19, "minutes": 12, "utc": true}, "type": "temporal"},
            "x2": {"datum": {"year": 2025, "month": 11, "date": 11, "hours": 1, "minutes": 41, "utc": true}},
            "y": {"datum": 1.58, "type": "quantitative"},
            "y2": {"datum": 1.466}
          }
        },
        {
          "data": {"values": [{}]},
          "mark": {"type": "rect", "color": "#ffffff"},
          "encoding": {
            "x": {"datum": {"year": 2025, "month": 10, "date": 29, "hours": 19, "minutes": 12, "utc": true}, "type": "temporal"},
            "x2": {"datum": {"year": 2025, "month": 11, "date": 11, "hours": 1, "minutes": 41, "utc": true}},
            "y": {"datum": 1.466, "type": "quantitative"},
            "y2": {"datum": 1.359}
          }
        },
        {
          "data": {"values": [{}]},
          "mark": {"type": "text", "text": "3.32 M", "fontSize": 12, "color": "#ffffff", "align": "left", "baseline": "middle", "font": "Liberation Sans"},
          "encoding": {
            "x": {"datum": {"year": 2025, "month": 10, "date": 31, "hours": 22, "minutes": 33, "utc": true}, "type": "temporal"},
            "y": {"datum": 1.522, "type": "quantitative"}
          }
        },
        {
          "data": {"values": [{}]},
          "mark": {"type": "text", "text": "1.95 M", "fontSize": 12, "color": "#131722", "align": "left", "baseline": "middle", "font": "Liberation Sans"},
          "encoding": {
            "x": {"datum": {"year": 2025, "month": 10, "date": 31, "hours": 22, "minutes": 33, "utc": true}, "type": "temporal"},
            "y": {"datum": 1.405, "type": "quantitative"}
          }
        }
      ]
    }
  ],
  "resolve": {"scale": {"y": "independent"}}
}
